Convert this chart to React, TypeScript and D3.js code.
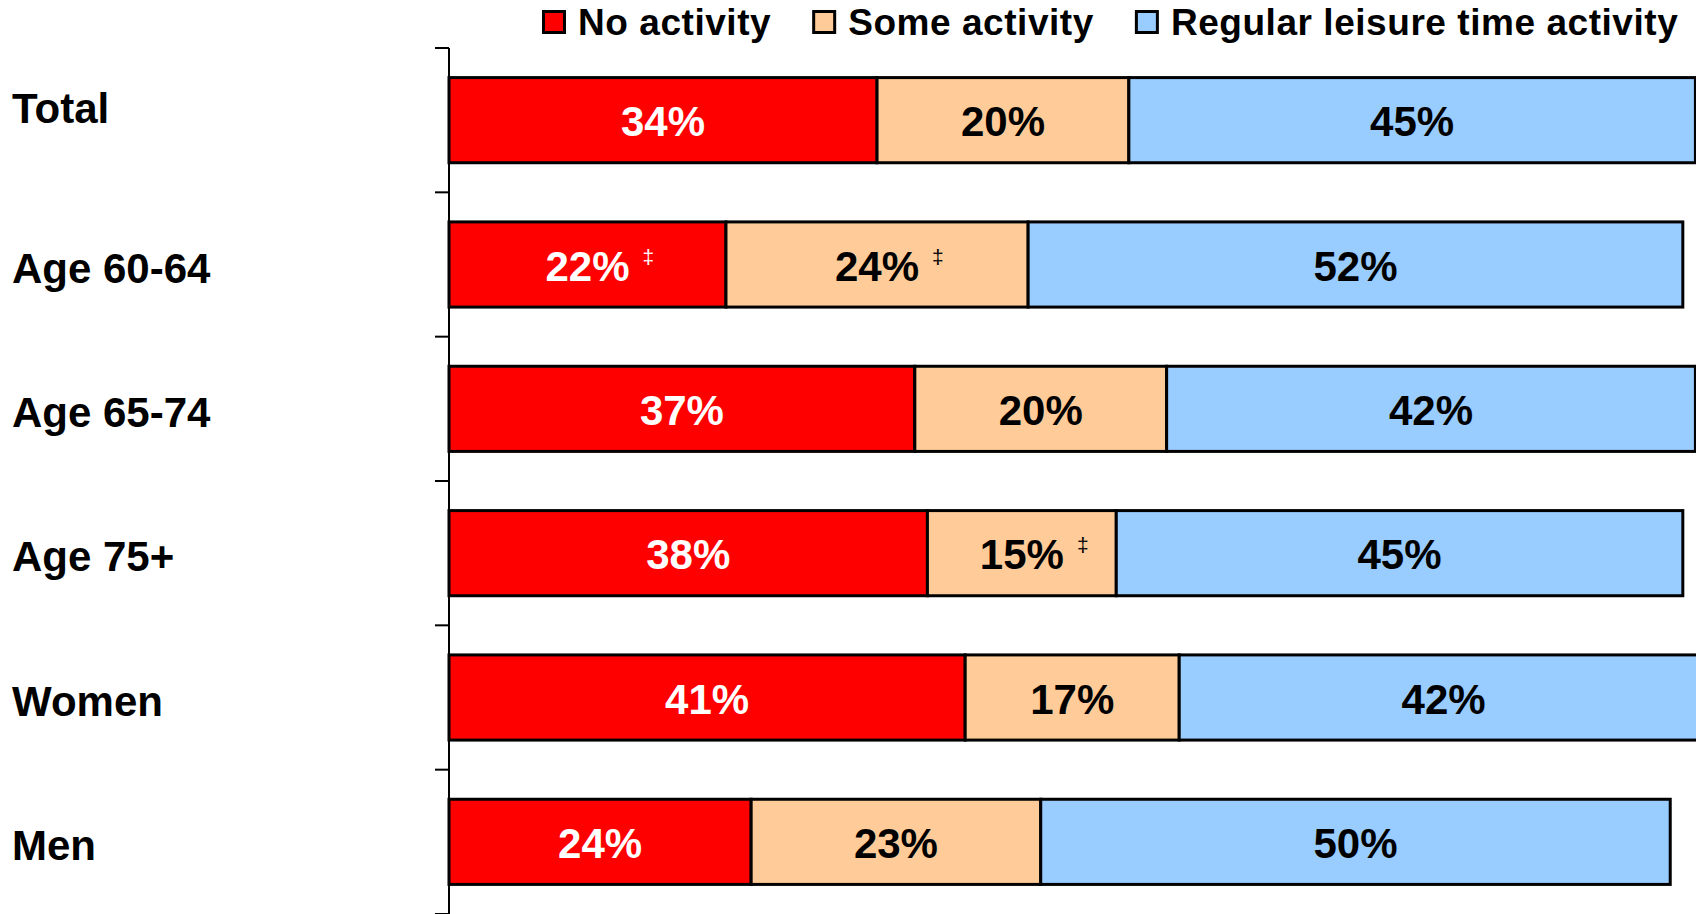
import React, { useEffect, useRef } from "react";
import * as d3 from "d3";

const categories = ["Total", "Age 60-64", "Age 65-74", "Age 75+", "Women", "Men"];
const seriesNames = ["No activity", "Some activity", "Regular leisure time activity"];
const noActivity = [34, 22, 37, 38, 41, 24];
const someActivity = [20, 24, 20, 15, 17, 23];
const regularActivity = [45, 52, 42, 45, 42, 50];
const noActivityFlag = [false, true, false, false, false, false];
const someActivityFlag = [false, true, false, true, false, false];
const regularActivityFlag = [false, false, false, false, false, false];
const seriesColors = ["#FF0000", "#FFCC99", "#99CCFF"];
const labelColors = ["#FFFFFF", "#000000", "#000000"];
const flagSymbol = "‡";

const W = 1696;
const H = 914;
const FONT = "'Liberation Sans', Arial, Helvetica, sans-serif";

export default function App() {
  const ref = useRef<SVGSVGElement | null>(null);

  useEffect(() => {
    const svg = d3.select(ref.current);
    svg.selectAll("*").remove();

    const series = [noActivity, someActivity, regularActivity];
    const flags = [noActivityFlag, someActivityFlag, regularActivityFlag];

    const x = d3.scaleLinear().domain([0, 100]).range([449, 1708]);
    const y = d3
      .scaleBand<string>()
      .domain(categories)
      .range([48, 914])
      .paddingInner(0.41)
      .paddingOuter(0.205);

    // axis line and ticks at band boundaries
    const g = svg.append("g");
    g.append("line")
      .attr("x1", x(0))
      .attr("x2", x(0))
      .attr("y1", y.range()[0])
      .attr("y2", y.range()[1])
      .attr("stroke", "#000")
      .attr("stroke-width", 2);
    const step = y.step();
    const boundaries = d3.range(categories.length + 1).map((i) => y.range()[0] + i * step);
    g.selectAll("line.tick")
      .data(boundaries)
      .enter()
      .append("line")
      .attr("class", "tick")
      .attr("x1", x(0) - 14)
      .attr("x2", x(0))
      .attr("y1", (d) => d)
      .attr("y2", (d) => d)
      .attr("stroke", "#000")
      .attr("stroke-width", 2);

    // category labels
    svg
      .selectAll("text.cat")
      .data(categories)
      .enter()
      .append("text")
      .attr("class", "cat")
      .attr("x", 12)
      .attr("y", (d, i) => (y(d) as number) + y.bandwidth() / 2 + (i === 0 ? 3 : 18))
      .attr("font-family", FONT)
      .attr("font-weight", "bold")
      .attr("font-size", 42)
      .attr("fill", "#000")
      .text((d) => d);

    // bars
    categories.forEach((cat, ci) => {
      let acc = 0;
      const cy = (y(cat) as number) + y.bandwidth() / 2;
      series.forEach((vals, si) => {
        const v = vals[ci];
        const x0 = x(acc);
        const x1 = x(acc + v);
        svg
          .append("rect")
          .attr("x", x0)
          .attr("y", y(cat) as number)
          .attr("width", x1 - x0)
          .attr("height", y.bandwidth())
          .attr("fill", seriesColors[si])
          .attr("stroke", "#000")
          .attr("stroke-width", 3);
        acc += v;
      });
      acc = 0;
      series.forEach((vals, si) => {
        const v = vals[ci];
        const cx = x(acc + v / 2);
        const t = svg
          .append("text")
          .attr("x", cx)
          .attr("y", cy + 16)
          .attr("text-anchor", "middle")
          .attr("font-family", FONT)
          .attr("font-weight", "bold")
          .attr("font-size", 42)
          .attr("fill", labelColors[si])
          .text(`${v}%`);
        if (flags[si][ci]) {
          const w = (t.node() as SVGTextElement).getComputedTextLength();
          svg
            .append("text")
            .attr("x", cx + w / 2 + 13)
            .attr("y", cy + 16 - 17)
            .attr("font-family", FONT)
            .attr("font-size", 21)
            .attr("fill", labelColors[si])
            .text(flagSymbol);
        }
        acc += v;
      });
    });

    // legend
    let lx = 542;
    seriesNames.forEach((name, si) => {
      svg
        .append("rect")
        .attr("x", lx + 1.5)
        .attr("y", 11.5)
        .attr("width", 21)
        .attr("height", 21)
        .attr("fill", seriesColors[si])
        .attr("stroke", "#000")
        .attr("stroke-width", 3);
      const t = svg
        .append("text")
        .attr("x", lx + 36)
        .attr("y", 35)
        .attr("font-family", FONT)
        .attr("font-weight", "bold")
        .attr("font-size", 37)
        .attr("letter-spacing", 0.55)
        .attr("fill", "#000")
        .text(name);
      const w = (t.node() as SVGTextElement).getComputedTextLength();
      lx = lx + 36 + w + 41;
    });
  }, []);

  return (
    <svg
      ref={ref}
      width={W}
      height={H}
      style={{ position: "absolute", left: 0, top: 0, background: "#fff" }}
    />
  );
}
